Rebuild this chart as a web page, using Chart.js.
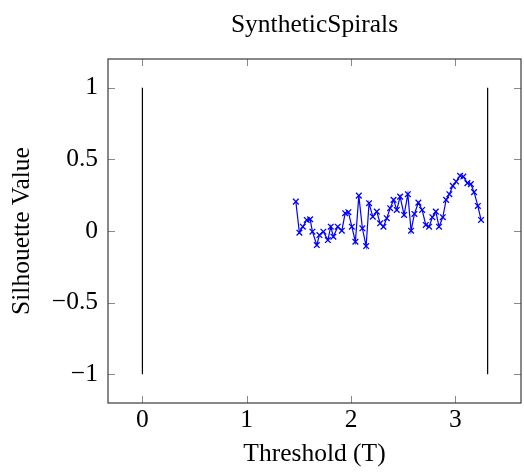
<!DOCTYPE html>
<html>
<head>
<meta charset="utf-8">
<script src="https://cdn.jsdelivr.net/npm/chart.js@4"></script>
<style>
  html, body { margin: 0; padding: 0; background: #fff; }
  #wrap { width: 524px; height: 475px; }
</style>
</head>
<body>
<div id="wrap"><canvas id="c" width="524" height="475"></canvas></div>
<script>
const chartTitle = "SyntheticSpirals";
const xLabel = "Threshold (T)";
const yLabel = "Silhouette Value";

const thresholds = [1.471, 1.505, 1.538, 1.576, 1.608, 1.630, 1.672, 1.697, 1.735, 1.778,
  1.806, 1.831, 1.873, 1.912, 1.944, 1.975, 2.008, 2.042, 2.075, 2.109,
  2.145, 2.173, 2.209, 2.247, 2.279, 2.311, 2.343, 2.375, 2.408, 2.439,
  2.471, 2.509, 2.545, 2.576, 2.608, 2.646, 2.682, 2.717, 2.749, 2.780,
  2.813, 2.844, 2.880, 2.912, 2.943, 2.976, 3.008, 3.046, 3.077, 3.116,
  3.149, 3.180, 3.216, 3.247];
const silhouette = [0.205, -0.012, 0.030, 0.077, 0.082, -0.005, -0.098, -0.028, -0.005, -0.063,
  0.030, -0.040, 0.030, 0.002, 0.124, 0.131, 0.030, -0.075, 0.247, 0.019,
  -0.105, 0.194, 0.100, 0.135, 0.054, 0.030, 0.089, 0.159, 0.217, 0.147,
  0.240, 0.112, 0.257, 0.002, 0.119, 0.198, 0.147, 0.042, 0.030, 0.096,
  0.135, 0.030, 0.096, 0.217, 0.257, 0.315, 0.345, 0.385, 0.380, 0.334,
  0.327, 0.271, 0.175, 0.077];

const boundaryX = [0, 3.31];
const boundaryY = [-1, 1];

const xTicks = [0, 1, 2, 3];
const yTicks = [-1, -0.5, 0, 0.5, 1];
const xRange = [-0.33, 3.63];
const yRange = [-1.2, 1.2];

const FONT = "'Liberation Serif', 'DejaVu Serif', serif";
const FS = 25.5;

function fmt(v) {
  const s = String(v);
  return v < 0 ? "\u2212" + s.slice(1) : s;
}

const frameTicks = {
  id: 'frameTicks',
  afterDatasetsDraw(chart) {
    const { ctx, chartArea: a, scales } = chart;
    const L = 7;
    ctx.save();
    ctx.strokeStyle = '#8a8a8a';
    ctx.lineWidth = 1;
    ctx.beginPath();
    xTicks.forEach(v => {
      const x = Math.round(scales.x.getPixelForValue(v)) + 0.5;
      ctx.moveTo(x, a.bottom); ctx.lineTo(x, a.bottom - L);
      ctx.moveTo(x, a.top); ctx.lineTo(x, a.top + L);
    });
    yTicks.forEach(v => {
      const y = Math.round(scales.y.getPixelForValue(v)) + 0.5;
      ctx.moveTo(a.left, y); ctx.lineTo(a.left + L, y);
      ctx.moveTo(a.right, y); ctx.lineTo(a.right - L, y);
    });
    ctx.stroke();
    ctx.strokeStyle = '#3a3a3a';
    ctx.lineWidth = 1.2;
    ctx.strokeRect(a.left, a.top, a.right - a.left, a.bottom - a.top);
    ctx.restore();
  }
};

const datasets = [
  {
    label: 'Silhouette',
    data: thresholds.map((t, i) => ({ x: t, y: silhouette[i] })),
    borderColor: 'rgb(0,0,255)',
    backgroundColor: 'rgb(0,0,255)',
    borderWidth: 1.2,
    pointStyle: 'crossRot',
    pointRadius: 4,
    pointBorderWidth: 1.3,
    tension: 0,
    order: 0
  }
];
boundaryX.forEach(bx => {
  datasets.push({
    label: 'boundary',
    data: boundaryY.map(by => ({ x: bx, y: by })),
    borderColor: '#000',
    borderWidth: 1.2,
    pointRadius: 0,
    order: 1
  });
});

new Chart(document.getElementById('c'), {
  type: 'line',
  data: { datasets },
  options: {
    responsive: false,
    animation: false,
    devicePixelRatio: 1,
    layout: { autoPadding: false, padding: { left: 0, right: 3, top: 0, bottom: 0 } },
    plugins: {
      legend: { display: false },
      tooltip: { enabled: false },
      title: {
        display: true,
        text: chartTitle,
        fullSize: false,
        color: '#000',
        font: { family: FONT, size: FS, weight: 'normal', lineHeight: 1.2 },
        padding: { top: 10, bottom: 18.4 }
      }
    },
    scales: {
      x: {
        type: 'linear',
        min: xRange[0], max: xRange[1],
        afterBuildTicks: s => { s.ticks = xTicks.map(v => ({ value: v })); },
        afterFit: s => { s.height = 72; s.paddingLeft = 0; s.paddingRight = 0; },
        grid: { display: false, drawTicks: false },
        border: { display: false },
        ticks: {
          color: '#000',
          padding: 2,
          maxRotation: 0,
          font: { family: FONT, size: FS },
          callback: v => fmt(v)
        },
        title: {
          display: true, text: xLabel, color: '#000',
          font: { family: FONT, size: FS, lineHeight: 1.2 },
          padding: 5
        }
      },
      y: {
        type: 'linear',
        min: yRange[0], max: yRange[1],
        afterBuildTicks: s => { s.ticks = yTicks.map(v => ({ value: v })); },
        afterFit: s => { s.width = 108; s.paddingTop = 0; s.paddingBottom = 0; },
        grid: { display: false, drawTicks: false },
        border: { display: false },
        ticks: {
          color: '#000',
          padding: 10,
          font: { family: FONT, size: FS },
          callback: v => fmt(v)
        },
        title: {
          display: true, text: yLabel, color: '#000',
          font: { family: FONT, size: FS, lineHeight: 1.2 },
          padding: 7
        }
      }
    }
  },
  plugins: [frameTicks]
});
</script>
</body>
</html>
